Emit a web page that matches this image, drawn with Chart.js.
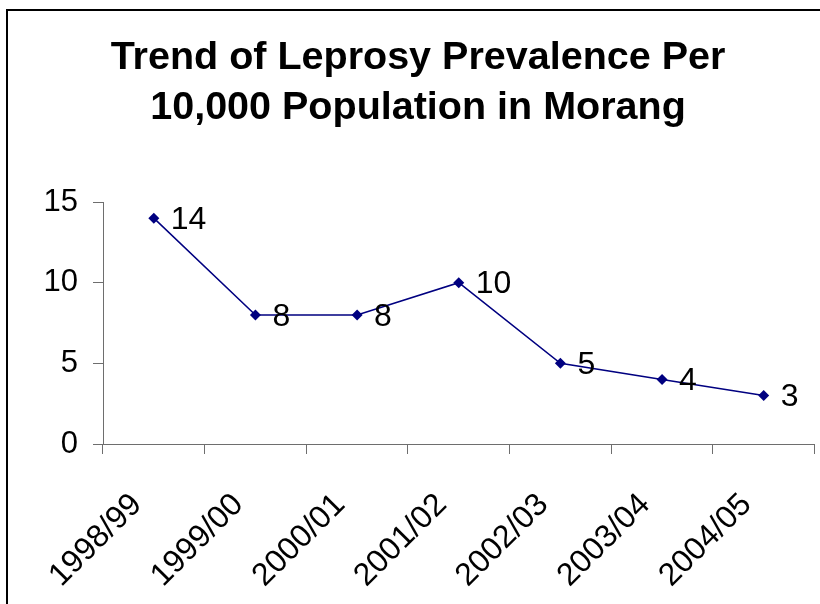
<!DOCTYPE html>
<html>
<head>
<meta charset="utf-8">
<script src="https://cdn.jsdelivr.net/npm/chart.js@4/dist/chart.umd.min.js"></script>
<style>
  html, body { margin: 0; padding: 0; background: #fff; }
  #wrap { position: relative; width: 820px; height: 604px; overflow: hidden; }
  #frame { position: absolute; left: 6px; top: 9px; width: 900px; height: 700px;
           border-top: 2px solid #000; border-left: 2px solid #000; pointer-events: none; }
  canvas { position: absolute; left: 0; top: 0; }
</style>
</head>
<body>
<div id="wrap">
  <canvas id="c" width="820" height="604"></canvas>
  <div id="frame"></div>
</div>
<script>
const titleLines = ['Trend of Leprosy Prevalence Per', '10,000 Population in Morang'];
const categories = ['1998/99', '1999/00', '2000/01', '2001/02', '2002/03', '2003/04', '2004/05'];
const prevalence = [14, 8, 8, 10, 5, 4, 3];
const yTicks = { min: 0, max: 15, step: 5 };

const FONT = "'Liberation Sans', Arial, sans-serif";
const NAVY = '#000080';
const AXIS = '#6e6e6e';

const valueLabels = {
  id: 'valueLabels',
  afterDatasetsDraw(chart) {
    const ctx = chart.ctx;
    const meta = chart.getDatasetMeta(0);
    const values = chart.data.datasets[0].data;
    ctx.save();
    ctx.font = '32px ' + FONT;
    ctx.fillStyle = '#000';
    ctx.textAlign = 'left';
    ctx.textBaseline = 'middle';
    meta.data.forEach((pt, i) => {
      ctx.fillText(String(values[i]), pt.x + 17, pt.y + 2);
    });
    ctx.restore();
  }
};

new Chart(document.getElementById('c'), {
  type: 'line',
  data: {
    labels: categories,
    datasets: [{
      data: prevalence,
      borderColor: NAVY,
      backgroundColor: NAVY,
      borderWidth: 1.5,
      pointStyle: 'rectRot',
      pointRadius: 5.5,
      pointBackgroundColor: NAVY,
      pointBorderColor: NAVY,
      pointBorderWidth: 0,
      tension: 0,
      fill: false
    }]
  },
  options: {
    responsive: false,
    animation: false,
    events: [],
    layout: { padding: { left: 19, right: 3, top: 0, bottom: 0 } },
    plugins: {
      legend: { display: false },
      tooltip: { enabled: false },
      title: {
        display: true,
        text: titleLines,
        color: '#000',
        font: { family: FONT, size: 39.5, weight: 'bold', lineHeight: 50 / 39.5 },
        padding: { top: 33.5, bottom: 68.5 }
      }
    },
    scales: {
      x: {
        type: 'category',
        offset: true,
        afterFit(scale) { scale.height = 160; scale.paddingLeft = 0; scale.paddingRight = 0; },
        grid: { display: true, offset: true, drawOnChartArea: false, drawTicks: true, tickLength: 10, color: AXIS, lineWidth: 1 },
        border: { display: true, color: AXIS, width: 1 },
        ticks: {
          color: '#000',
          font: { family: FONT, size: 32 },
          minRotation: 45,
          maxRotation: 45,
          autoSkip: false,
          padding: 32,
          labelOffset: -17
        }
      },
      y: {
        min: yTicks.min,
        max: yTicks.max,
        afterFit(scale) { scale.width = 84; scale.paddingTop = 0; scale.paddingBottom = 0; },
        grid: { display: true, drawOnChartArea: false, drawTicks: true, tickLength: 10, color: AXIS, lineWidth: 1 },
        border: { display: true, color: AXIS, width: 1 },
        ticks: {
          stepSize: yTicks.step,
          color: '#000',
          font: { family: FONT, size: 31 },
          padding: 15
        }
      }
    }
  },
  plugins: [valueLabels]
});
</script>
</body>
</html>
